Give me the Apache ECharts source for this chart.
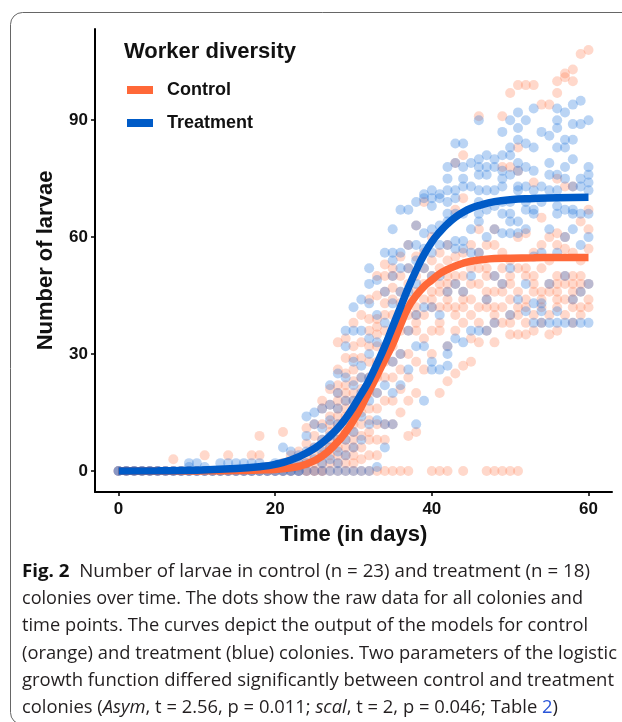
<!DOCTYPE html>
<html>
<head>
<meta charset="utf-8">
<script src="https://cdn.jsdelivr.net/npm/echarts@6/dist/echarts.min.js"></script>
<style>
  html, body { margin: 0; padding: 0; background: #fff; }
  #main { width: 622px; height: 722px; }
</style>
</head>
<body>
<div id="main"></div>
<script>
// raw counts, one row per day: [day, [larvae counts...]]
const controlByDay = [
  [0, [0, 0]], [1, [0, 0]], [2, [0, 0]], [3, [0, 0]], [4, [0, 0]], [5, [0, 0]],
  [6, [0, 0]], [7, [0, 0, 3]], [8, [0, 0]], [9, [0, 0]], [10, [0, 0]],
  [11, [0, 0, 4]], [12, [0, 0]], [13, [0, 0]], [14, [0, 0, 4]], [15, [0, 0]],
  [16, [0, 0]], [17, [0, 0, 4]], [18, [0, 0, 4, 9]], [19, [0, 0, 1]], [20, [0, 0, 1]],
  [21, [0, 0, 2, 10]], [22, [0, 0, 2, 4]], [23, [0, 0, 1, 3, 5]],
  [24, [0, 0, 2, 4, 7, 11]], [25, [0, 0, 2, 4, 6, 9, 12]],
  [26, [0, 0, 2, 4, 6, 8, 12, 16, 18]],
  [27, [0, 2, 4, 6, 8, 10, 12, 14, 17, 21]],
  [28, [0, 2, 4, 6, 8, 10, 12, 14, 16, 18, 20, 22, 26, 33]],
  [29, [0, 2, 4, 6, 8, 10, 12, 14, 16, 18, 20, 22, 25, 29, 34]],
  [30, [0, 2, 4, 6, 8, 10, 12, 14, 16, 18, 20, 23, 26, 29, 32, 38]],
  [31, [0, 3, 6, 9, 12, 15, 18, 21, 24, 29, 33, 40]],
  [32, [0, 4, 8, 10, 13, 16, 20, 24, 28, 32, 36, 39, 44]],
  [33, [0, 4, 8, 12, 16, 20, 24, 28, 32, 35, 37, 39, 45, 50]],
  [34, [0, 8, 12, 18, 24, 28, 32, 36, 40, 43, 46, 50, 53]],
  [35, [0, 12, 18, 24, 28, 32, 36, 40, 44, 47, 50, 52]],
  [36, [0, 15, 21, 26, 30, 36, 40, 43, 46, 50, 55]],
  [37, [0, 9, 18, 24, 30, 36, 40, 44, 48, 52, 58]],
  [38, [10, 20, 28, 36, 38, 40, 42, 46, 50, 55, 63]],
  [39, [26, 34, 40, 44, 48, 52, 56, 69]],
  [40, [0, 30, 36, 42, 44, 46, 50, 54, 60]],
  [41, [0, 20, 36, 38, 42, 46, 48, 52, 56]],
  [42, [0, 23, 32, 42, 44, 46, 48, 50, 54, 58]],
  [43, [25, 36, 40, 42, 48, 50, 55, 67, 79]],
  [44, [0, 27, 38, 42, 44, 46, 50, 56, 70, 81]],
  [45, [28, 34, 40, 44, 48, 52, 58]],
  [46, [33, 38, 42, 48, 52, 56, 62, 91]],
  [47, [0, 36, 42, 44, 46, 50, 52, 58]],
  [48, [0, 33, 38, 40, 42, 46, 50, 58, 62]],
  [49, [0, 38, 42, 46, 48, 52, 56, 78, 91]],
  [50, [0, 35, 38, 40, 44, 48, 50, 54, 78, 97]],
  [51, [0, 35, 40, 42, 46, 52, 60, 77, 83, 99]],
  [52, [35, 38, 42, 44, 50, 52, 61, 99]],
  [53, [36, 40, 46, 48, 50, 56, 74, 99]],
  [54, [38, 42, 44, 46, 52, 58, 65, 94]],
  [55, [35, 40, 46, 48, 54, 60, 94]],
  [56, [36, 42, 44, 46, 48, 50, 58, 61, 75, 97, 100]],
  [57, [40, 44, 48, 50, 57, 60, 73, 101, 102]],
  [58, [38, 42, 44, 46, 48, 50, 56, 73, 100, 103]],
  [59, [40, 42, 46, 48, 50, 54, 64, 107]],
  [60, [42, 44, 48, 57, 62, 67, 108]]
];

const treatmentByDay = [
  [0, [0, 0]], [1, [0, 0]], [2, [0, 0]], [3, [0, 0]], [4, [0, 0]], [5, [0, 0]],
  [6, [0, 0]], [7, [0, 0]], [8, [0, 0]], [9, [0, 0, 1, 2]], [10, [0, 0, 2]],
  [11, [0, 0, 1]], [12, [0, 0]], [13, [0, 0, 2]], [14, [0, 0, 2]], [15, [0, 0, 2]],
  [16, [0, 0, 2]], [17, [0, 0, 2]], [18, [0, 0, 2]], [19, [0, 0, 1]], [20, [0, 0, 2]],
  [21, [0, 0, 2, 6]], [22, [0, 0, 1, 5]], [23, [0, 0, 2, 4]],
  [24, [0, 2, 5, 9, 14]], [25, [0, 3, 6, 12, 15]], [26, [0, 2, 5, 8, 11, 16]],
  [27, [0, 3, 6, 9, 13, 17, 22]], [28, [0, 2, 5, 8, 12, 16, 20, 25]],
  [29, [0, 4, 8, 13, 18, 24, 32, 36]], [30, [0, 6, 10, 14, 18, 22, 28, 36, 42]],
  [31, [0, 8, 14, 20, 24, 27, 36, 44]], [32, [0, 12, 18, 24, 30, 34, 43, 48, 52]],
  [33, [1, 13, 20, 26, 33, 40, 49]], [34, [6, 12, 22, 30, 38, 46, 56]],
  [35, [12, 20, 28, 35, 43, 50, 54, 56, 62]], [36, [22, 30, 40, 46, 52, 56, 67]],
  [37, [26, 36, 46, 52, 58, 67]], [38, [12, 32, 40, 48, 54, 58, 63, 69]],
  [39, [18, 32, 42, 52, 57, 61, 70, 71]], [40, [26, 28, 42, 50, 56, 62, 68, 70, 72]],
  [41, [26, 40, 50, 58, 63, 70, 71]],
  [42, [27, 30, 32, 46, 58, 64, 66, 69, 72, 75, 78]],
  [43, [34, 48, 57, 59, 66, 70, 72, 79, 84]],
  [44, [33, 46, 57, 59, 66, 73, 75, 78, 84]],
  [45, [36, 50, 56, 62, 73, 79]],
  [46, [36, 56, 64, 66, 69, 72, 76, 78, 80, 90]],
  [47, [36, 44, 60, 67, 72, 76, 78, 81]],
  [48, [38, 50, 62, 68, 72, 78, 80]],
  [49, [48, 61, 66, 69, 73, 75, 77, 81, 87]],
  [50, [40, 52, 61, 64, 66, 69, 76, 81, 83, 90]],
  [51, [44, 61, 64, 72, 73, 77, 79, 85, 88, 92]],
  [52, [41, 48, 62, 67, 69, 73, 78, 84, 90]],
  [53, [38, 43, 55, 66, 67, 72, 77, 83, 93]],
  [54, [38, 41, 43, 56, 69, 73, 87]],
  [55, [38, 48, 62, 72, 76, 79, 86]],
  [56, [38, 41, 56, 66, 68, 72, 76, 83, 88, 90, 93]],
  [57, [38, 50, 60, 67, 75, 78, 83, 85, 92]],
  [58, [38, 44, 62, 66, 67, 73, 80, 85, 89, 94]],
  [59, [38, 46, 58, 66, 73, 75, 89, 95]],
  [60, [38, 48, 60, 66, 72, 74, 76, 78, 90]]
];

// fitted model curves
const curveDays    = [0, 5, 10, 15, 18, 20, 22, 24, 26, 28, 29, 30, 31, 32, 33, 34, 35, 36, 37, 38, 39, 40, 41, 42, 43, 44, 45, 46, 48, 50, 53, 56, 60];
const controlFit   = [0, 0, 0.02, 0.1, 0.25, 0.4, 0.8, 1.8, 3.8, 7.5, 10, 13, 16.5, 20.5, 24.5, 28.5, 32.5, 37.5, 42, 45, 47.3, 49, 50.6, 51.7, 52.6, 53.3, 53.8, 54.1, 54.5, 54.6, 54.7, 54.8, 54.8];
const treatmentFit = [0, 0.05, 0.2, 0.6, 1.1, 1.7, 2.8, 4.6, 7.2, 11, 13.5, 16.5, 19.8, 23.3, 27.5, 32, 37, 42, 47, 51.5, 55.5, 58.8, 61.3, 63.4, 65.1, 66.4, 67.4, 68.1, 69.1, 69.6, 69.9, 70.1, 70.2];

const groupNames = ['Control', 'Treatment'];
const xTicks = [0, 20, 40, 60];
const yTicks = [0, 30, 60, 90];

const captionLines = [
  '{b|Fig. 2}  Number of larvae in control (n = 23) and treatment (n = 18)',
  'colonies over time. The dots show the raw data for all colonies and',
  'time points. The curves depict the output of the models for control',
  '(orange) and treatment (blue) colonies. Two parameters of the logistic',
  'growth function differed significantly between control and treatment',
  'colonies ({i|Asym}, t = 2.56, p = 0.011; {i|scal}, t = 2, p = 0.046; Table {l|2})'
];

const FONT = '"Liberation Sans", Arial, sans-serif';
const CAP_FONT = '"Open Sans", "Noto Sans", sans-serif';
const orange = '#ff6838';
const blue = '#005bc7';

function flatten(rows) {
  const out = [];
  rows.forEach(([d, vals]) => vals.forEach(v => out.push([d, v])));
  return out;
}

// squeeze each caption line so it spans like the original
const capLeft = 22;
const capRight = [590, 583, 588, 617, 614, 558];
const capY = [572, 599, 626, 654, 681, 708];
const ctx = document.createElement('canvas').getContext('2d');
function lineWidth(line) {
  let w = 0;
  line.split(/(\{\w\|[^}]*\})/).forEach(part => {
    const m = part.match(/^\{(\w)\|([^}]*)\}$/);
    let txt = part, pre = '';
    if (m) {
      txt = m[2];
      if (m[1] === 'b') pre = 'bold ';
      if (m[1] === 'i') pre = 'italic ';
    }
    ctx.font = pre + '18px ' + CAP_FONT;
    w += ctx.measureText(txt).width;
  });
  return w;
}

const captionGraphics = captionLines.map((line, i) => ({
  type: 'text',
  x: capLeft,
  y: capY[i],
  scaleX: (capRight[i] - capLeft) / lineWidth(line),
  style: {
    text: line,
    fontSize: 18,
    fontFamily: CAP_FONT,
    fill: '#231f20',
    verticalAlign: 'middle',
    rich: {
      b: { fontSize: 18, fontFamily: CAP_FONT, fontWeight: 'bold', fill: '#111' },
      i: { fontSize: 18, fontFamily: CAP_FONT, fontStyle: 'italic', fill: '#231f20' },
      l: { fontSize: 18, fontFamily: CAP_FONT, fill: '#2a55d8' }
    }
  }
}));

const axisText = { fontFamily: FONT, fontWeight: 'bold', color: '#111' };

var myChart = echarts.init(document.getElementById('main'));

var option = {
  animation: false,
  backgroundColor: '#fff',
  title: {
    text: 'Worker diversity',
    left: 124,
    top: 41,
    padding: 0,
    textStyle: { fontSize: 22, fontWeight: 'bold', color: '#111', fontFamily: FONT }
  },
  legend: {
    data: groupNames,
    orient: 'vertical',
    left: 127,
    top: 81,
    padding: 0,
    icon: 'rect',
    itemWidth: 26,
    itemHeight: 8,
    itemGap: 15,
    textStyle: { fontSize: 18, fontWeight: 'bold', color: '#111', fontFamily: FONT, padding: [0, 0, 0, 9] }
  },
  grid: { left: 95, right: 10, top: 29, bottom: 230 },
  xAxis: {
    type: 'value',
    min: -3,
    max: 63,
    name: 'Time (in days)',
    nameLocation: 'middle',
    nameGap: 32,
    nameTextStyle: Object.assign({ fontSize: 22 }, axisText),
    axisLine: { onZero: false, lineStyle: { color: '#000', width: 2 } },
    axisTick: { show: true, customValues: xTicks, length: 4, lineStyle: { color: '#000', width: 1.5 } },
    axisLabel: Object.assign({ customValues: xTicks, fontSize: 17, margin: 9 }, axisText),
    splitLine: { show: false }
  },
  yAxis: {
    type: 'value',
    min: -5.4,
    max: 113.4,
    name: 'Number of larvae',
    nameLocation: 'middle',
    nameRotate: 90,
    nameGap: 38,
    nameTextStyle: Object.assign({ fontSize: 22 }, axisText),
    axisLine: { show: true, onZero: false, lineStyle: { color: '#000', width: 2 } },
    axisTick: { show: true, customValues: yTicks, length: 4, lineStyle: { color: '#000', width: 1.5 } },
    axisLabel: Object.assign({ customValues: yTicks, fontSize: 17, margin: 7 }, axisText),
    splitLine: { show: false }
  },
  graphic: [
    {
      type: 'rect',
      z: -10,
      shape: { x: 10.5, y: 12.5, width: 640, height: 712, r: 12 },
      style: { fill: 'none', stroke: '#666', lineWidth: 1 }
    }
  ].concat(captionGraphics),
  series: [
    {
      name: 'Control points',
      type: 'scatter',
      data: flatten(controlByDay),
      symbolSize: 10,
      itemStyle: { color: 'rgba(255,115,70,0.35)' },
      z: 2
    },
    {
      name: 'Treatment points',
      type: 'scatter',
      data: flatten(treatmentByDay),
      symbolSize: 10,
      itemStyle: { color: 'rgba(40,120,220,0.4)' },
      z: 2
    },
    {
      name: groupNames[0],
      type: 'line',
      data: curveDays.map((d, i) => [d, controlFit[i]]),
      smooth: true,
      showSymbol: false,
      itemStyle: { color: orange },
      lineStyle: { color: orange, width: 7.5 },
      z: 3
    },
    {
      name: groupNames[1],
      type: 'line',
      data: curveDays.map((d, i) => [d, treatmentFit[i]]),
      smooth: true,
      showSymbol: false,
      itemStyle: { color: blue },
      lineStyle: { color: blue, width: 7.5 },
      z: 4
    }
  ]
};

myChart.setOption(option);
</script>
</body>
</html>
